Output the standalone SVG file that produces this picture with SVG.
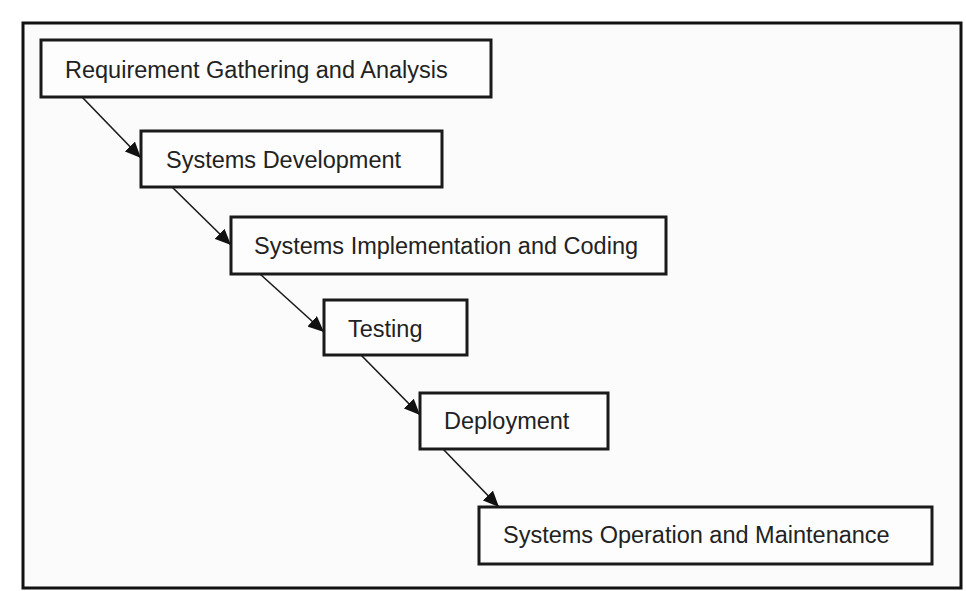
<svg xmlns="http://www.w3.org/2000/svg" width="966" height="591" viewBox="0 0 966 591">
<style>
.box{fill:#fdfdfd;stroke:#1a1a1a;stroke-width:3}
.t{font-family:"Liberation Sans",Arial,sans-serif;font-size:23.5px;fill:#222}
.c{stroke:#1a1a1a;stroke-width:1.6;fill:none;marker-end:url(#ah)}
</style>
<defs>
<marker id="ah" viewBox="0 0 10 10" refX="10" refY="5" markerWidth="16" markerHeight="14" orient="auto" markerUnits="userSpaceOnUse" preserveAspectRatio="none">
<path d="M0,0 L10,5 L0,10 z" fill="#111"/>
</marker>
</defs>
<rect x="0" y="0" width="966" height="591" fill="#fff"/>
<rect x="23" y="23" width="938" height="565" fill="#fcfbfb" stroke="#111" stroke-width="3"/>
<g id="connectors">
<path class="c" d="M82,97 L141,158"/>
<path class="c" d="M172,187 L231,245"/>
<path class="c" d="M260,274 L324,332"/>
<path class="c" d="M361,355 L420,415"/>
<path class="c" d="M443,449 L499,507"/>
</g>
<g id="n1"><rect class="box" x="41" y="40" width="450" height="57"/><text class="t" x="65" y="78">Requirement Gathering and Analysis</text></g>
<g id="n2"><rect class="box" x="141" y="131" width="301" height="56"/><text class="t" x="166" y="168">Systems Development</text></g>
<g id="n3"><rect class="box" x="231" y="217" width="435" height="57"/><text class="t" x="254" y="254">Systems Implementation and Coding</text></g>
<g id="n4"><rect class="box" x="324" y="300" width="143" height="55"/><text class="t" x="348" y="337">Testing</text></g>
<g id="n5"><rect class="box" x="420" y="393" width="188" height="56"/><text class="t" x="444" y="429">Deployment</text></g>
<g id="n6"><rect class="box" x="479" y="507" width="453" height="57"/><text class="t" x="503" y="543">Systems Operation and Maintenance</text></g>
</svg>
